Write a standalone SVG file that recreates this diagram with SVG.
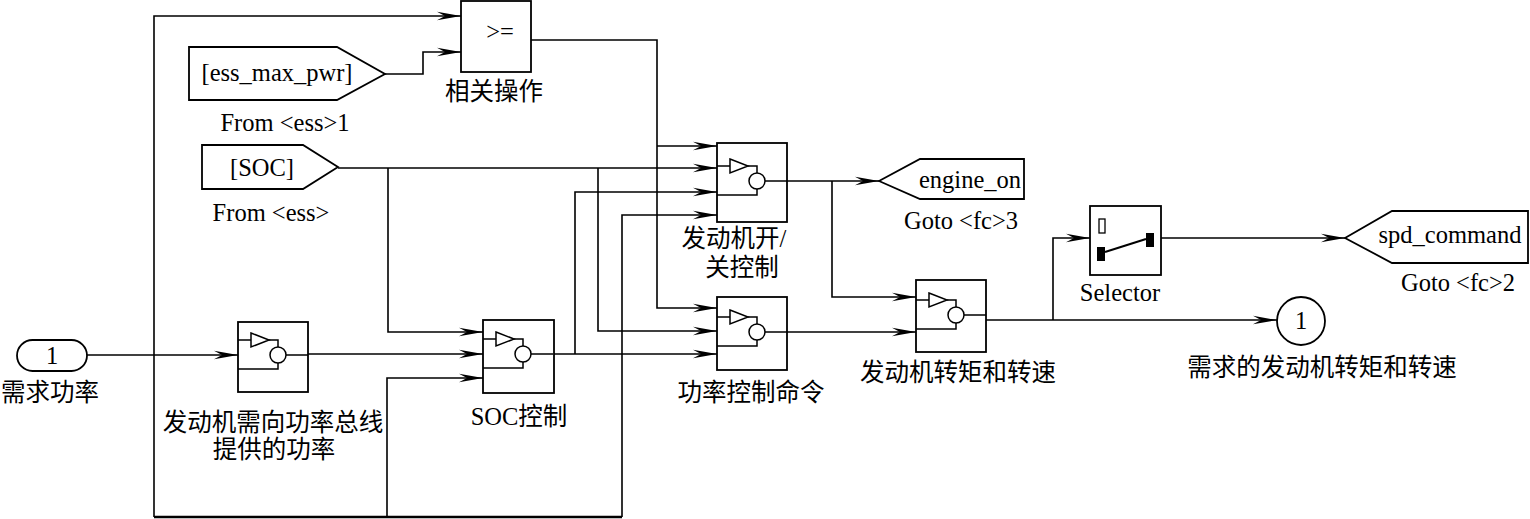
<svg xmlns="http://www.w3.org/2000/svg" xmlns:xlink="http://www.w3.org/1999/xlink" width="1530" height="519" viewBox="0 0 1530 519">
<style>
.blk{fill:#fff;stroke:#000;stroke-width:1.8}
.ic{fill:none;stroke:#000;stroke-width:1.5}
.w{fill:none;stroke:#000;stroke-width:1.6}
.wb{fill:none;stroke:#000;stroke-width:2.4}
text{font-family:"Liberation Serif","Noto Sans CJK SC",serif;font-size:24.5px;fill:#000}
.m{text-anchor:middle}
</style>
<defs>
<marker id="ar" markerUnits="userSpaceOnUse" markerWidth="26" markerHeight="12" viewBox="0 0 26 12" refX="24" refY="6" orient="auto">
<path d="M0,1.8 L24,6 L0,10.2 L8,6 Z" fill="#000"/>
</marker>
<g id="ic">
<path class="ic" d="M0,19 H13 M31,19 H40 V26 M40,42 V48 H0 M48,34 H70"/>
<path class="ic" d="M13,12 L31,19 L13,26 Z"/>
<circle class="ic" cx="40" cy="34" r="8"/>
</g>
</defs>
<rect width="1530" height="519" fill="#fff"/>

<g id="connectors">
<path class="w" d="M87,355 H238" marker-end="url(#ar)"/>
<path class="w" d="M154,355 V16 H461" marker-end="url(#ar)"/>
<path class="w" d="M154,355 V517" />
<path class="wb" d="M154,517 H622"/>
<path class="w" d="M622,517 V215 H717" marker-end="url(#ar)"/>
<path class="w" d="M387,517 V378 H483" marker-end="url(#ar)"/>
<path class="w" d="M308,354 H483" marker-end="url(#ar)"/>
<path class="w" d="M385,74 H423 V52 H461" marker-end="url(#ar)"/>
<path class="w" d="M531,40 H657 V308 H717" marker-end="url(#ar)"/>
<path class="w" d="M657,146 H717" marker-end="url(#ar)"/>
<path class="w" d="M338,168 H717" marker-end="url(#ar)"/>
<path class="w" d="M388,168 V332 H483" marker-end="url(#ar)"/>
<path class="w" d="M598,168 V331 H717" marker-end="url(#ar)"/>
<path class="w" d="M554,354 H717" marker-end="url(#ar)"/>
<path class="w" d="M575,354 V192 H717" marker-end="url(#ar)"/>
<path class="w" d="M787,181 H879" marker-end="url(#ar)"/>
<path class="w" d="M832,181 V297 H916" marker-end="url(#ar)"/>
<path class="w" d="M787,332 H916" marker-end="url(#ar)"/>
<path class="w" d="M986,320 H1277" marker-end="url(#ar)"/>
<path class="w" d="M1053,320 V238 H1090" marker-end="url(#ar)"/>
<path class="w" d="M1161,238 H1345" marker-end="url(#ar)"/>
</g>

<g id="inport">
<rect class="blk" x="17" y="340" width="70" height="31" rx="15.5"/>
<text class="m" x="52" y="364">1</text>
<text class="m" x="50" y="401">需求功率</text>
</g>

<g id="from_ess_max_pwr">
<path class="blk" d="M189,47 H337 L385,74 L337,100 H189 Z"/>
<text class="m" x="277" y="81">[ess_max_pwr]</text>
<text class="m" x="285" y="131">From &lt;ess&gt;1</text>
</g>

<g id="from_soc">
<path class="blk" d="M202,145 H303 L338,167 L303,189 H202 Z"/>
<text class="m" x="262" y="176">[SOC]</text>
<text class="m" x="271" y="221">From &lt;ess&gt;</text>
</g>

<g id="relop">
<rect class="blk" x="461" y="1" width="70" height="71"/>
<text class="m" x="500" y="40">&gt;=</text>
<text class="m" x="494" y="100">相关操作</text>
</g>

<g id="block_power_bus">
<rect class="blk" x="238" y="322" width="70" height="70"/>
<use xlink:href="#ic" x="238" y="321"/>
<text class="m" x="273" y="431">发动机需向功率总线</text>
<text class="m" x="274" y="458">提供的功率</text>
</g>

<g id="block_soc">
<rect class="blk" x="483" y="320" width="71" height="73"/>
<use xlink:href="#ic" x="483" y="320"/>
<text class="m" x="519" y="425">SOC控制</text>
</g>

<g id="block_onoff">
<rect class="blk" x="717" y="143" width="70" height="79"/>
<use xlink:href="#ic" x="717" y="147"/>
<text class="m" x="734" y="247">发动机开/</text>
<text class="m" x="742" y="276">关控制</text>
</g>

<g id="block_power_cmd">
<rect class="blk" x="717" y="297" width="70" height="73"/>
<use xlink:href="#ic" x="717" y="298"/>
<text class="m" x="751" y="401">功率控制命令</text>
</g>

<g id="block_torque_speed">
<rect class="blk" x="916" y="280" width="70" height="72"/>
<use xlink:href="#ic" x="916" y="281"/>
<text class="m" x="958" y="381">发动机转矩和转速</text>
</g>

<g id="goto_engine_on">
<path class="blk" d="M879,181 L920,159 H1024 V199 H920 Z"/>
<text class="m" x="970" y="188">engine_on</text>
<text class="m" x="961" y="229">Goto &lt;fc&gt;3</text>
</g>

<g id="selector">
<rect class="blk" x="1090" y="206" width="71" height="69"/>
<rect x="1099" y="219" width="6" height="14" fill="none" stroke="#000" stroke-width="1.3"/>
<rect x="1097" y="247" width="8" height="14" fill="#000"/>
<rect x="1146" y="233" width="8" height="14" fill="#000"/>
<path d="M1105,252 L1146,239" stroke="#000" stroke-width="2" fill="none"/>
<text class="m" x="1120" y="301">Selector</text>
</g>

<g id="goto_spd_command">
<path class="blk" d="M1345,238 L1392,211 H1528 V263 H1392 Z"/>
<text class="m" x="1450" y="243">spd_command</text>
<text class="m" x="1458" y="291">Goto &lt;fc&gt;2</text>
</g>

<g id="outport">
<circle class="blk" cx="1301" cy="321" r="24"/>
<text class="m" x="1301" y="329">1</text>
<text class="m" x="1322" y="376">需求的发动机转矩和转速</text>
</g>
</svg>
